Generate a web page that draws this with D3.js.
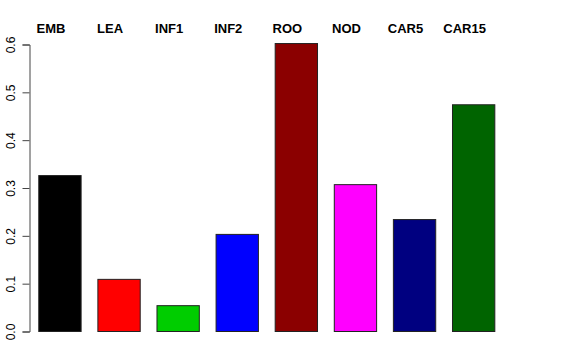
<!DOCTYPE html>
<html><head><meta charset="utf-8">
<script src="https://cdn.jsdelivr.net/npm/d3@7"></script>
<style>body{margin:0;background:#fff}svg{display:block}</style>
</head><body>
<svg id="c" width="576" height="360"></svg>
<script>
const categories = ["EMB","LEA","INF1","INF2","ROO","NOD","CAR5","CAR15"];
const values = [0.326, 0.109, 0.054, 0.203, 0.602, 0.307, 0.234, 0.474];
const colors = ["#000000","#FF0000","#00CD00","#0000FF","#8B0000","#FF00FF","#000080","#006400"];
const yTicks = [0, 0.1, 0.2, 0.3, 0.4, 0.5, 0.6];

const svg = d3.select("#c");
const y = d3.scaleLinear().domain([0, 0.6]).range([331, 44]);
const x = d3.scaleBand().domain(categories).range([26.46, 506.14]).paddingInner(0.2838).paddingOuter(0.2);

svg.append("g").selectAll("rect").data(values).join("rect")
  .attr("x", (d,i) => x(categories[i]) + 0.5)
  .attr("y", d => y(d) + 0.5)
  .attr("width", x.bandwidth())
  .attr("height", d => y(0) - y(d))
  .attr("fill", (d,i) => colors[i])
  .attr("stroke", "#222").attr("stroke-width", 1);

const ax = svg.append("g").attr("transform", "translate(29.5,0.5)")
  .call(d3.axisLeft(y).tickValues(yTicks).tickFormat(d3.format(".1f")).tickSize(7).tickPadding(4));
ax.select(".domain").attr("stroke", "#444");
ax.selectAll(".tick line").attr("stroke", "#444");
ax.selectAll(".tick text")
  .attr("font-family", "Liberation Sans, Arial, sans-serif").attr("font-size", 12).attr("fill", "#000")
  .attr("transform", "rotate(-90)").attr("text-anchor", "middle").attr("x", 0).attr("y", -15).attr("dy", "0");

svg.append("g").selectAll("text").data(categories).join("text")
  .attr("x", d => x(d) + x.bandwidth()/2 - 8.5)
  .attr("y", 33)
  .attr("text-anchor", "middle")
  .attr("font-family", "Liberation Sans, Arial, sans-serif")
  .attr("font-weight", "bold").attr("font-size", 13)
  .text(d => d);
</script>
</body></html>
